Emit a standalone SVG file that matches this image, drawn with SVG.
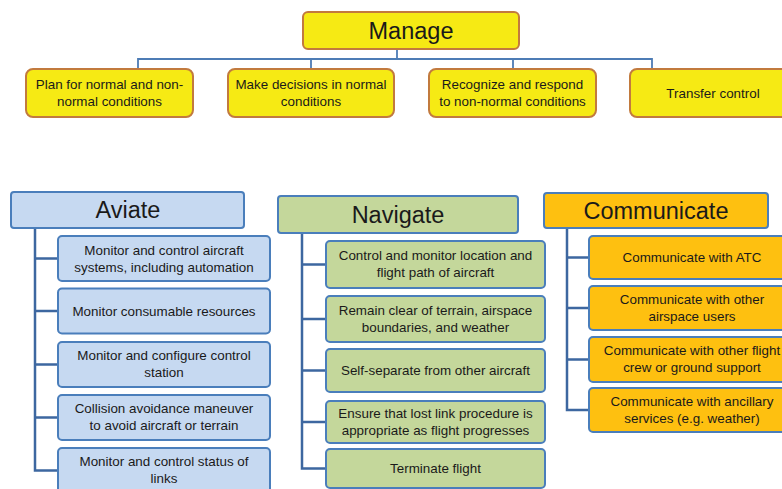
<svg xmlns="http://www.w3.org/2000/svg" width="782" height="489" viewBox="0 0 782 489">
<style>
text{font-family:"Liberation Sans",Arial,sans-serif;fill:#1a1a1a;text-anchor:middle}
.s{font-size:13.4px}
.h{font-size:23.5px}
.y rect{fill:#f6ea14;stroke:#c27a3e;stroke-width:2}
.b rect{fill:#c6d9f1;stroke:#4a7ebb;stroke-width:2}
.g rect{fill:#c4d79b;stroke:#4a7ebb;stroke-width:2}
.o rect{fill:#fec010;stroke:#4a7ebb;stroke-width:2}
.c1{fill:none;stroke:#4d7cb5;stroke-width:1.8}
.c2{fill:none;stroke:#3d67a0;stroke-width:2.5}
</style>
<rect width="782" height="489" fill="#fff"/>
<g id="connectors">
<path class="c1" d="M397 49V59M138 69V59H652V69M311 59V69M513 59V69"/>
<path class="c2" d="M35 228V470.5H58M35 258.5H58M35 311H58M35 364.5H58M35 417.5H58"/>
<path class="c2" d="M302 233V468.5H326M302 264.5H326M302 319H326M302 370.5H326M302 422H326"/>
<path class="c2" d="M567 228V410H589M567 257.5H589M567 308H589M567 359.5H589"/>
</g>
<g id="manage" class="y"><rect x="303" y="12" width="216" height="37" rx="5"/><text class="h" x="411" y="38.5">Manage</text></g>
<g id="m1" class="y"><rect x="26" y="69" width="167" height="48" rx="7"/><text class="s" x="109.5" y="89">Plan for normal and non-</text><text class="s" x="109.5" y="105.5">normal conditions</text></g>
<g id="m2" class="y"><rect x="228" y="69" width="166" height="48" rx="7"/><text class="s" x="311" y="89">Make decisions in normal</text><text class="s" x="311" y="105.5">conditions</text></g>
<g id="m3" class="y"><rect x="429" y="69" width="167" height="48" rx="7"/><text class="s" x="512.5" y="89">Recognize and respond</text><text class="s" x="512.5" y="105.5">to non-normal conditions</text></g>
<g id="m4" class="y"><rect x="630" y="69" width="167" height="48" rx="7"/><text class="s" x="713" y="97.5">Transfer control</text></g>

<g id="aviate" class="b"><rect x="11" y="192" width="233" height="36" rx="3"/><text class="h" x="128" y="218">Aviate</text></g>
<g id="a1" class="b"><rect x="58" y="236" width="212" height="45" rx="4"/><text class="s" x="164" y="254.5">Monitor and control aircraft</text><text class="s" x="164" y="271.5">systems, including automation</text></g>
<g id="a2" class="b"><rect x="58" y="288.5" width="212" height="45" rx="4"/><text class="s" x="164" y="315.5">Monitor consumable resources</text></g>
<g id="a3" class="b"><rect x="58" y="342" width="212" height="45" rx="4"/><text class="s" x="164" y="360">Monitor and configure control</text><text class="s" x="164" y="377">station</text></g>
<g id="a4" class="b"><rect x="58" y="395" width="212" height="45" rx="4"/><text class="s" x="164" y="413">Collision avoidance maneuver</text><text class="s" x="164" y="430">to avoid aircraft or terrain</text></g>
<g id="a5" class="b"><rect x="58" y="448" width="212" height="45" rx="4"/><text class="s" x="164" y="466">Monitor and control status of</text><text class="s" x="164" y="483">links</text></g>

<g id="navigate" class="g"><rect x="278" y="196" width="240" height="37" rx="3"/><text class="h" x="398" y="222.5">Navigate</text></g>
<g id="n1" class="g"><rect x="326" y="241" width="219" height="47" rx="4"/><text class="s" x="435.5" y="260">Control and monitor location and</text><text class="s" x="435.5" y="277">flight path of aircraft</text></g>
<g id="n2" class="g"><rect x="326" y="296" width="219" height="46" rx="4"/><text class="s" x="435.5" y="315">Remain clear of terrain, airspace</text><text class="s" x="435.5" y="332">boundaries, and weather</text></g>
<g id="n3" class="g"><rect x="326" y="349" width="219" height="43" rx="4"/><text class="s" x="435.5" y="375">Self-separate from other aircraft</text></g>
<g id="n4" class="g"><rect x="326" y="401" width="219" height="42" rx="4"/><text class="s" x="435.5" y="418">Ensure that lost link procedure is</text><text class="s" x="435.5" y="435">appropriate as flight progresses</text></g>
<g id="n5" class="g"><rect x="326" y="449" width="219" height="39" rx="4"/><text class="s" x="435.5" y="473">Terminate flight</text></g>

<g id="communicate" class="o"><rect x="544" y="193" width="224" height="35" rx="3"/><text class="h" x="656" y="218.5">Communicate</text></g>
<g id="c1" class="o"><rect x="589" y="236" width="210" height="43" rx="4"/><text class="s" x="692" y="262">Communicate with ATC</text></g>
<g id="c2" class="o"><rect x="589" y="286" width="210" height="44" rx="4"/><text class="s" x="692" y="304">Communicate with other</text><text class="s" x="692" y="321">airspace users</text></g>
<g id="c3" class="o"><rect x="589" y="337" width="210" height="45" rx="4"/><text class="s" x="692" y="355">Communicate with other flight</text><text class="s" x="692" y="372">crew or ground support</text></g>
<g id="c4" class="o"><rect x="589" y="388" width="210" height="44" rx="4"/><text class="s" x="692" y="406">Communicate with ancillary</text><text class="s" x="692" y="423">services (e.g. weather)</text></g>
</svg>
